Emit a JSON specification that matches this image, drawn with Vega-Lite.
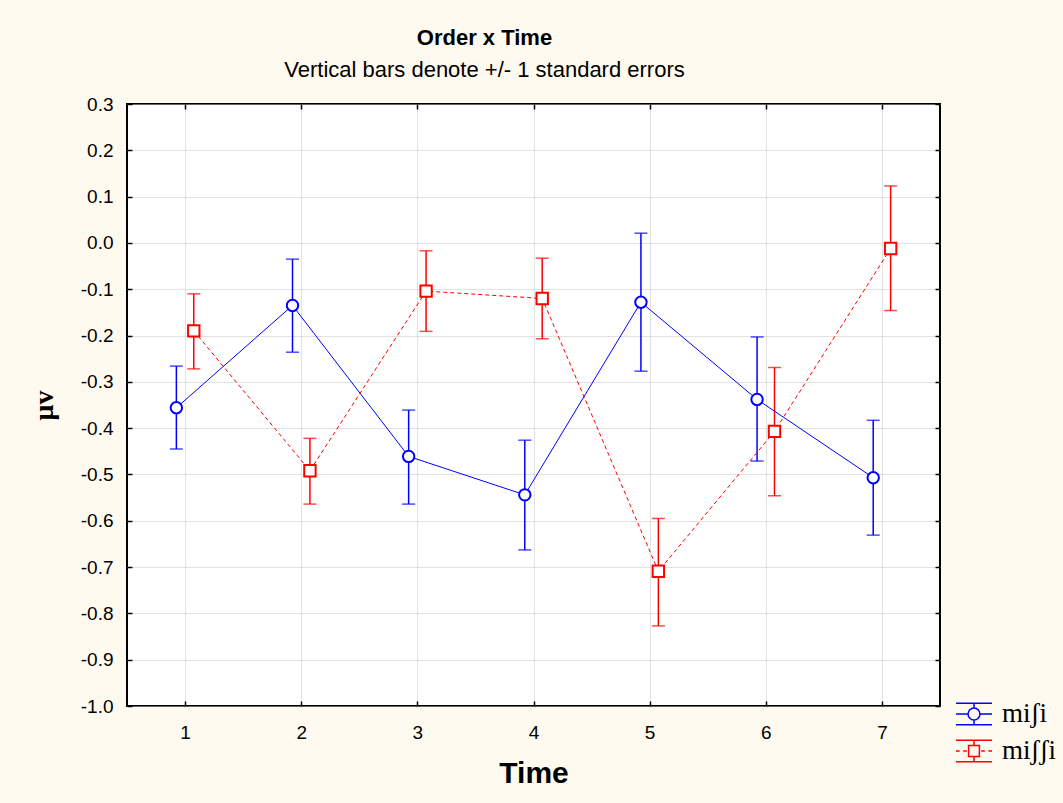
{
  "$schema": "https://vega.github.io/schema/vega-lite/v6.json",
  "width": 813,
  "height": 602,
  "autosize": {"type": "none"},
  "padding": {"left": 127, "top": 104, "right": 123, "bottom": 97},
  "background": "#FEFAEF",
  "config": {
    "view": {"fill": "white", "stroke": "black", "strokeWidth": 2},
    "font": "Liberation Sans"
  },
  "title": {
    "text": "Order x Time",
    "subtitle": "Vertical bars denote +/- 1 standard errors",
    "anchor": "middle",
    "frame": "group",
    "dx": -49,
    "font": "Liberation Sans",
    "fontSize": 22,
    "fontWeight": "bold",
    "color": "black",
    "subtitleFont": "Liberation Sans",
    "subtitleFontSize": 22,
    "subtitleColor": "black",
    "subtitlePadding": 10,
    "offset": 13
  },
  "data": {
    "values": [
      {"series": "miʃi", "Time": 1, "pos": 0.925, "mean": -0.356, "lo": -0.445, "hi": -0.266},
      {"series": "miʃi", "Time": 2, "pos": 1.925, "mean": -0.135, "lo": -0.236, "hi": -0.035},
      {"series": "miʃi", "Time": 3, "pos": 2.925, "mean": -0.461, "lo": -0.564, "hi": -0.361},
      {"series": "miʃi", "Time": 4, "pos": 3.925, "mean": -0.544, "lo": -0.663, "hi": -0.426},
      {"series": "miʃi", "Time": 5, "pos": 4.925, "mean": -0.128, "lo": -0.277, "hi": 0.021},
      {"series": "miʃi", "Time": 6, "pos": 5.925, "mean": -0.338, "lo": -0.471, "hi": -0.203},
      {"series": "miʃi", "Time": 7, "pos": 6.925, "mean": -0.507, "lo": -0.631, "hi": -0.383},
      {"series": "miʃʃi", "Time": 1, "pos": 1.075, "mean": -0.190, "lo": -0.272, "hi": -0.110},
      {"series": "miʃʃi", "Time": 2, "pos": 2.075, "mean": -0.492, "lo": -0.564, "hi": -0.422},
      {"series": "miʃʃi", "Time": 3, "pos": 3.075, "mean": -0.104, "lo": -0.191, "hi": -0.017},
      {"series": "miʃʃi", "Time": 4, "pos": 4.075, "mean": -0.120, "lo": -0.207, "hi": -0.033},
      {"series": "miʃʃi", "Time": 5, "pos": 5.075, "mean": -0.709, "lo": -0.827, "hi": -0.595},
      {"series": "miʃʃi", "Time": 6, "pos": 6.075, "mean": -0.407, "lo": -0.546, "hi": -0.269},
      {"series": "miʃʃi", "Time": 7, "pos": 7.075, "mean": -0.012, "lo": -0.146, "hi": 0.123}
    ]
  },
  "resolve": {"axis": {"x": "independent", "y": "independent"}},
  "layer": [
    {
      "mark": {"type": "point", "filled": false, "opacity": 0, "strokeWidth": 1.5},
      "encoding": {
        "x": {"field": "pos", "type": "quantitative", "axis": null},
        "y": {"field": "mean", "type": "quantitative", "axis": null},
        "color": {
          "field": "series", "type": "nominal",
          "scale": {"domain": ["miʃi", "miʃʃi"], "range": ["#0000ff", "#ff0000"]},
          "legend": {
            "title": null,
            "orient": "none",
            "legendX": 828,
            "legendY": 591,
            "padding": 0,
            "symbolSize": 1296,
            "symbolStrokeWidth": 1.5,
            "symbolOpacity": 1,
            "symbolFillColor": "white",
            "labelFont": "Liberation Serif",
            "labelFontSize": 27,
            "labelColor": "black",
            "labelOffset": 9,
            "rowPadding": 4
          }
        },
        "shape": {
          "field": "series", "type": "nominal",
          "scale": {
            "domain": ["miʃi", "miʃʃi"],
            "range": [
              "M-1,-0.6H1M-1,0.6H1M-1,0H-0.33M0.33,0H1M0,-0.6V-0.33M0,0.33V0.6M0.33,0A0.33,0.33,0,1,1,-0.33,0A0.33,0.33,0,1,1,0.33,0",
              "M-1,-0.6H1M-1,0.6H1M-1,0H-0.8M-0.6,0H-0.4M0.4,0H0.6M0.8,0H1M0,-0.6V-0.3M0,0.3V0.6M-0.3,-0.3H0.3V0.3H-0.3Z"
            ]
          }
        }
      }
    },
    {
      "transform": [{"filter": "datum.series === 'miʃi'"}],
      "mark": {"type": "errorbar", "ticks": true, "size": 13, "thickness": 1.5, "color": "#0000ff"},
      "encoding": {
        "x": {
          "field": "pos", "type": "quantitative",
          "scale": {"domain": [0.5, 7.5], "nice": false, "zero": false},
          "axis": {
            "orient": "bottom",
            "values": [1, 2, 3, 4, 5, 6, 7],
            "format": "d",
            "domain": false,
            "grid": true,
            "gridColor": "#c4c4c4",
            "gridDash": [1, 1],
            "tickSize": -5,
            "tickColor": "black",
            "tickWidth": 1.5,
            "labelFont": "Liberation Sans",
            "labelFontSize": 19,
            "labelColor": "black",
            "labelPadding": 22,
            "title": "Time",
            "titleFont": "Liberation Sans",
            "titleFontSize": 30,
            "titleFontWeight": "bold",
            "titleColor": "black",
            "titlePadding": 16
          }
        },
        "y": {
          "field": "lo", "type": "quantitative",
          "scale": {"domain": [-1, 0.3], "nice": false, "zero": false},
          "axis": {
            "orient": "left",
            "values": [-1, -0.9, -0.8, -0.7, -0.6, -0.5, -0.4, -0.3, -0.2, -0.1, 0, 0.1, 0.2, 0.3],
            "labelExpr": "replace(format(datum.value, '.1f'), '−', '-')",
            "domain": false,
            "grid": true,
            "gridColor": "#c4c4c4",
            "gridDash": [1, 1],
            "tickSize": -5,
            "tickColor": "black",
            "tickWidth": 1.5,
            "labelFont": "Liberation Sans",
            "labelFontSize": 19,
            "labelColor": "black",
            "labelPadding": 19,
            "title": "μv",
            "titleFont": "Liberation Serif",
            "titleFontSize": 28,
            "titleFontWeight": "bold",
            "titleColor": "black",
            "titlePadding": 22
          }
        },
        "y2": {"field": "hi"}
      }
    },
    {
      "transform": [{"filter": "datum.series === 'miʃʃi'"}],
      "mark": {"type": "errorbar", "ticks": true, "size": 13, "thickness": 1.5, "color": "#ff0000"},
      "encoding": {
        "x": {"field": "pos", "type": "quantitative", "axis": null},
        "y": {"field": "lo", "type": "quantitative", "axis": null},
        "y2": {"field": "hi"}
      }
    },
    {
      "transform": [{"filter": "datum.series === 'miʃi'"}],
      "mark": {"type": "line", "strokeWidth": 1, "color": "#0000ff"},
      "encoding": {
        "x": {
          "field": "pos", "type": "quantitative",
          "axis": {
            "orient": "top",
            "values": [1, 2, 3, 4, 5, 6, 7],
            "labels": false,
            "domain": false,
            "grid": false,
            "tickSize": -5,
            "tickColor": "black",
            "tickWidth": 1.5,
            "title": null
          }
        },
        "y": {
          "field": "mean", "type": "quantitative",
          "axis": {
            "orient": "right",
            "values": [-1, -0.9, -0.8, -0.7, -0.6, -0.5, -0.4, -0.3, -0.2, -0.1, 0, 0.1, 0.2, 0.3],
            "labels": false,
            "domain": false,
            "grid": false,
            "tickSize": -5,
            "tickColor": "black",
            "tickWidth": 1.5,
            "title": null
          }
        }
      }
    },
    {
      "transform": [{"filter": "datum.series === 'miʃʃi'"}],
      "mark": {"type": "line", "strokeWidth": 1, "color": "#ff0000", "strokeDash": [4, 3]},
      "encoding": {
        "x": {"field": "pos", "type": "quantitative", "axis": null},
        "y": {"field": "mean", "type": "quantitative", "axis": null}
      }
    },
    {
      "transform": [{"filter": "datum.series === 'miʃi'"}],
      "mark": {"type": "point", "shape": "circle", "filled": false, "fill": "white", "color": "#0000ff", "strokeWidth": 2, "size": 130, "opacity": 1},
      "encoding": {
        "x": {"field": "pos", "type": "quantitative", "axis": null},
        "y": {"field": "mean", "type": "quantitative", "axis": null}
      }
    },
    {
      "transform": [{"filter": "datum.series === 'miʃʃi'"}],
      "mark": {"type": "point", "shape": "square", "filled": false, "fill": "white", "color": "#ff0000", "strokeWidth": 2, "size": 130, "opacity": 1},
      "encoding": {
        "x": {"field": "pos", "type": "quantitative", "axis": null},
        "y": {"field": "mean", "type": "quantitative", "axis": null}
      }
    }
  ]
}
